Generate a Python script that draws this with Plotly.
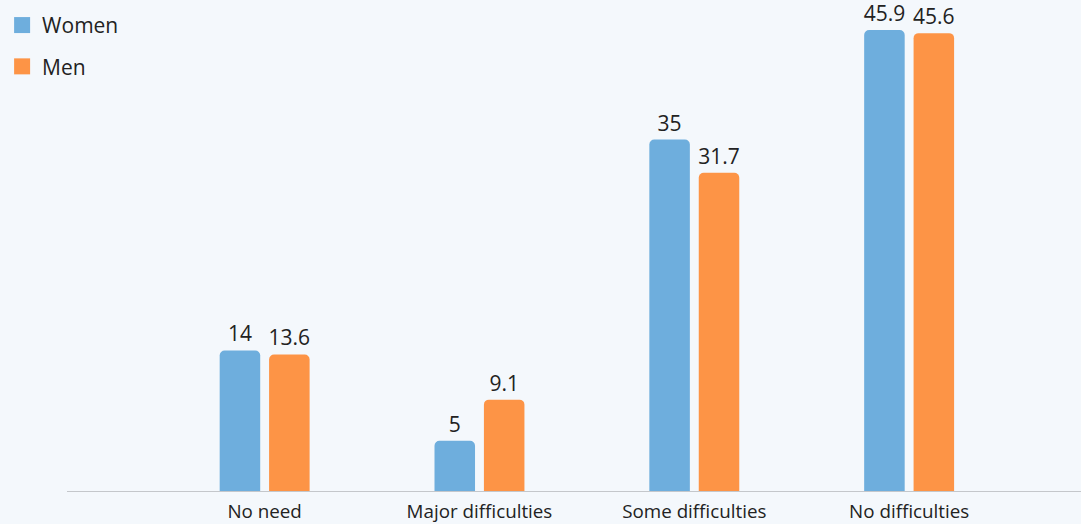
import plotly.graph_objects as go

categories = ["No need", "Major difficulties", "Some difficulties", "No difficulties"]
women = [14, 5, 35, 45.9]
men = [13.6, 9.1, 31.7, 45.6]

BLUE = "#6eaedd"
ORANGE = "#fd9446"
BG = "#f4f8fc"
TEXT = "#222222"
FONT = "Open Sans, Noto Sans, sans-serif"

fig = go.Figure()

for name, vals, color in [("Women", women, BLUE), ("Men", men, ORANGE)]:
    fig.add_trace(go.Bar(
        x=categories, y=vals, name=name,
        marker=dict(color=color, line=dict(width=0), cornerradius=5),
        text=[f"{v:g}" for v in vals], textposition="outside",
        textfont=dict(size=21, color=TEXT, family=FONT),
        constraintext="none",
        cliponaxis=False, showlegend=False, hoverinfo="x+y+name",
    ))

# legend entries with square swatches
for name, color in [("Women", BLUE), ("Men", ORANGE)]:
    fig.add_trace(go.Scatter(
        x=[None], y=[None], mode="markers", name=name, legendgroup=name,
        marker=dict(symbol="square", size=17, color=color),
    ))

fig.update_layout(
    width=1081, height=524,
    paper_bgcolor=BG, plot_bgcolor=BG,
    margin=dict(l=67, r=0, t=0, b=31),
    barmode="group", bargap=0.54, bargroupgap=0.18,
    font=dict(family=FONT, color=TEXT),
    legend=dict(
        x=-0.064, y=0.99, xanchor="left", yanchor="top",
        bgcolor="rgba(0,0,0,0)", font=dict(size=21, color=TEXT, family=FONT),
        tracegroupgap=11, traceorder="grouped", itemwidth=30,
    ),
    xaxis=dict(
        type="category", range=[-0.92, 3.80],
        showline=True, linecolor="#c4c7cb", linewidth=1,
        showgrid=False, ticks="", tickfont=dict(size=18.8, color=TEXT, family=FONT),
        ticklabelstandoff=3, fixedrange=True,
    ),
    yaxis=dict(range=[0, 48.9], visible=False, showgrid=False, zeroline=False, fixedrange=True),
)

fig.write_html("out.html")
